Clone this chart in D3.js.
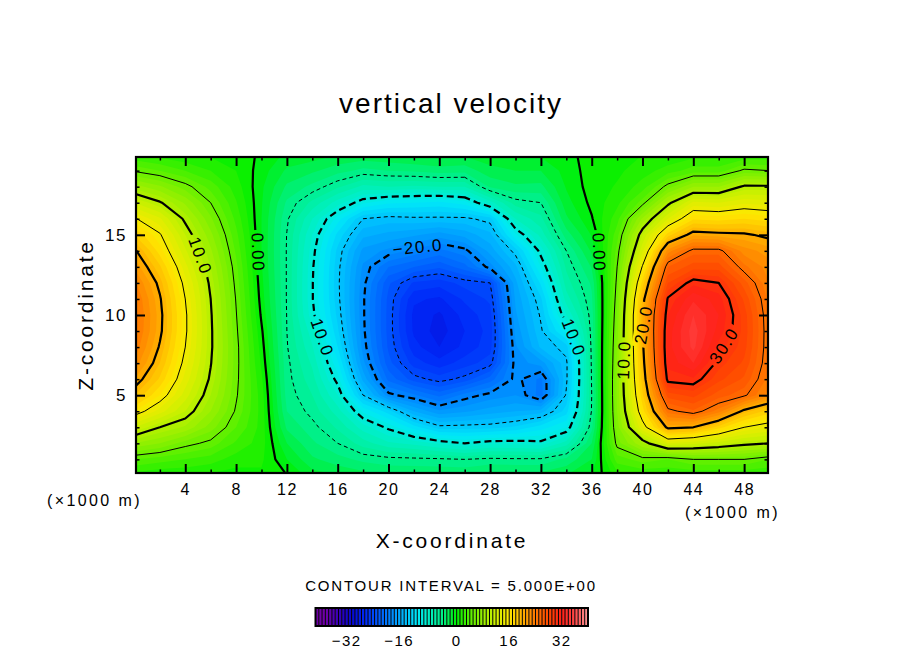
<!DOCTYPE html>
<html>
<head>
<meta http-equiv="Content-type" content="text/html; charset=utf-8">
<title>vertical velocity</title>
<script src="https://cdn.jsdelivr.net/npm/d3@7/dist/d3.min.js"></script>
<style>
  body { margin: 0; background: #fff; }
  svg text { font-family: "Liberation Sans", Arial, Helvetica, sans-serif; fill: #000; }
</style>
</head>
<body>
<script type="text/javascript">

// grid positions, x and z in 1000 m
var xCoords = [0, 2, 4, 6, 8, 10, 12, 14, 16, 18, 20, 22, 24, 26, 28, 30, 32, 34, 36, 38, 40, 42, 44, 46, 48, 50];
var zCoords = [0, 1, 2, 3, 4, 5, 6, 7, 8, 9, 10, 11, 12, 13, 14, 15, 16, 17, 18, 19, 20];

// vertical velocity, one column per x, z = 0 .. 20
var wColumns = [
  [1.5, 4, 8, 12, 16, 19, 21, 22.7, 23.8, 24.4, 24.5, 24.2, 23.3, 21.8, 20.3, 18, 15.2, 12, 8.5, 4.8, 2],
  [1, 3.5, 7, 10, 13.5, 16, 17.8, 19, 19.8, 20.4, 20.5, 20.2, 19.5, 18.2, 16.5, 15.2, 13.2, 10.2, 7.2, 4, 1.5],
  [1, 3, 5.5, 8.8, 11, 12.5, 13.6, 14.4, 15, 15.3, 15.3, 15, 14.4, 13.4, 12.2, 11, 9.6, 7.8, 5.5, 3, 1],
  [0.8, 2.5, 4.6, 6.5, 8, 9, 9.7, 10.1, 10.3, 10.3, 10.2, 10, 9.6, 9, 8.2, 7.3, 6.2, 5, 3.6, 2, 0.8],
  [0.5, 1.5, 2.8, 4, 4.8, 5.2, 5.4, 5.5, 5.5, 5.3, 5.1, 4.9, 4.6, 4.3, 3.8, 3.3, 2.7, 2.1, 1.5, 1, 0.6],
  [0.8, 1.2, 1.5, 1.6, 1.6, 1.5, 1.2, 0.8, 0.5, 0.2, -0.2, -0.5, -0.7, -0.9, -1, -1, -1, -0.9, -0.8, -0.5, -0.2],
  [0, -1, -2, -3.2, -4, -4.4, -4.6, -4.7, -4.9, -5, -5.05, -5.1, -5.1, -5.1, -5.1, -5.05, -4.8, -4.2, -3.2, -2.2, -1.2],
  [-1.5, -2.8, -3.8, -4.6, -5.4, -6, -6.6, -7.2, -7.9, -8.6, -9.6, -9.9, -9.9, -9.8, -9.5, -9, -8, -6.3, -4.3, -2.8, -1.4],
  [-2, -3.6, -5, -6.2, -7.5, -9, -10.5, -11.8, -13, -13.8, -14.3, -14.6, -14.7, -14.6, -14.3, -13.3, -11.5, -8.5, -5.8, -3.6, -2],
  [-2.5, -4.3, -6.5, -8.5, -11.2, -15, -17.3, -18.7, -19.4, -19.7, -19.8, -19.8, -19.6, -19.2, -18.3, -16.7, -15, -10.8, -7.3, -4.3, -2.2],
  [-3, -4.6, -7.8, -10.3, -13.5, -19.6, -22.3, -23.6, -24.2, -24.4, -24.4, -24.3, -23.8, -22, -19.3, -17.3, -15.5, -11.8, -7, -4, -2],
  [-3, -4.7, -8.3, -12.5, -17, -20.8, -24.5, -26.5, -27.6, -28.2, -28.3, -27.8, -26.2, -23, -20.3, -17.8, -15.3, -12, -7.2, -3.8, -1.8],
  [-3, -4.8, -9.2, -14.6, -18.8, -22.3, -25.5, -27.6, -29, -29.5, -29.2, -28.2, -26.6, -23.8, -21.3, -18.5, -15.3, -12.3, -7, -3.5, -1.5],
  [-3, -5, -10, -14.5, -18.2, -20.6, -24.6, -26.5, -27.7, -28, -27.6, -26.8, -25.6, -22.4, -20.4, -17.6, -15.3, -11.5, -7, -3.6, -1.8],
  [-2.5, -4.7, -9.3, -14.4, -17.5, -19.6, -22.5, -25.5, -26.4, -26.6, -26.4, -25.8, -25, -19.5, -17.6, -16.3, -14.5, -8.5, -3.8, -2.4, -1.2],
  [-2.5, -4.8, -9.3, -13.8, -17, -19, -19.6, -19.5, -19.2, -18.7, -18.2, -17.8, -17.3, -16.3, -14.5, -11.2, -8, -5.5, -3.2, -2, -1],
  [-2.5, -4.8, -9.6, -12.5, -16.5, -21.5, -21.3, -18.5, -15.8, -15.2, -14.8, -14.2, -12.8, -11, -9.5, -7.6, -6.3, -5, -3.3, -2, -0.8],
  [-2, -3.7, -7.5, -11, -13.5, -14.8, -15.3, -15.3, -14.5, -11.5, -9, -7.5, -6.5, -5.8, -5, -3.5, -2.2, -1.4, -0.9, -0.6, -0.3],
  [-1, -2, -3, -4.3, -4.9, -5, -4.9, -4.8, -4.7, -4.6, -4.5, -4.2, -3.8, -2.9, -1.8, -0.9, -0.1, 0.3, 0.5, 0.5, 0.4],
  [1.5, 3.5, 5.5, 6.5, 7, 7.2, 7.2, 7, 6.8, 6.5, 6.2, 5.8, 5.4, 5, 4.4, 3.6, 2.6, 1.7, 1.1, 0.8, 0.6],
  [2, 4.5, 9, 14, 16.5, 17.8, 18.6, 19.2, 19.6, 19.9, 20, 19.2, 17.5, 15.2, 12.8, 11, 8.2, 4.5, 2.5, 1.5, 1],
  [2, 4, 13, 20.5, 24.5, 27.5, 30.5, 31.3, 31.6, 31.5, 31, 30.2, 28, 26, 22.5, 17.5, 13, 9.5, 5.5, 2.5, 1],
  [2, 5, 12.3, 20, 25.8, 28.3, 30.8, 33, 34.3, 34.5, 34, 32.8, 30.7, 27.5, 25.5, 20.8, 16.8, 13.3, 8, 3.5, 1.5],
  [2, 5, 11.5, 17.5, 23.5, 26.5, 28.3, 29.5, 30.6, 31.6, 32, 31.5, 30, 27.5, 25.5, 20.5, 16.6, 13, 8, 3.5, 1.5],
  [2, 5, 10.5, 15, 19.5, 25.3, 26.8, 27.8, 28.4, 28.6, 28.5, 27.8, 26.5, 24.3, 22.5, 20.3, 17, 13.8, 10.3, 5.3, 2],
  [2, 4, 10, 14, 17.5, 22.5, 23.5, 23.9, 24, 24, 23.9, 23.6, 23, 22.5, 21.5, 19.5, 16.5, 13.5, 10.3, 5, 2]
];

var lineLevels = [-25, -20, -15, -10, -5, 0, 5, 10, 15, 20, 25, 30];
var xTicks = [4, 8, 12, 16, 20, 24, 28, 32, 36, 40, 44, 48];
var xMinorTicks = [2, 6, 10, 14, 18, 22, 26, 30, 34, 38, 42, 46];
var zTicks = [5, 10, 15];
var zMinorTicks = [1, 2, 3, 4, 6, 7, 8, 9, 11, 12, 13, 14, 16, 17, 18, 19];
var barTicks = [-32, -16, 0, 16, 32];

// colour table
var colorStopValues = [-40, -36, -32, -28, -24, -20, -16, -12, -8, -4, 0, 4, 8, 12, 16, 20, 24, 28, 32, 36, 40];
var colorStopHex = ["#7000a8", "#3800b8", "#0808d0", "#0028f8", "#0058ff", "#0088ff", "#00b8ff", "#00e8f8",
                    "#00f0c0", "#00f080", "#00f000", "#58f000", "#98f000", "#d0f000", "#ffe800", "#ffb000",
                    "#ff7800", "#ff4800", "#ff2018", "#ff4848", "#ff9898"];

// contour labels (text, where it sits in x/z, rotation)
var lineLabels = [
  {text: "10.0", x: 5.2, z: 13.7, angle: 70},
  {text: "0.00", x: 9.75, z: 13.9, angle: 88},
  {text: "10.0", x: 14.8, z: 8.6, angle: 71},
  {text: "\u221220.0", x: 22.3, z: 14.25, angle: -6},
  {text: "10.0", x: 34.6, z: 8.6, angle: 69},
  {text: "0.00", x: 36.6, z: 13.9, angle: 88},
  {text: "10.0", x: 38.5, z: 7.2, angle: -88},
  {text: "20.0", x: 40.05, z: 9.4, angle: -80},
  {text: "30.0", x: 46.4, z: 8.1, angle: -57}
];

var W = 904, H = 654;
var frame = {left: 136, right: 768, top: 157, bottom: 473};

var x = d3.scaleLinear().domain([0.12, 49.88]).range([frame.left, frame.right]);
var y = d3.scaleLinear().domain([0.15, 19.85]).range([frame.bottom, frame.top]);
var color = d3.scaleLinear().domain(colorStopValues).range(colorStopHex).clamp(true);

var svg = d3.select("body").append("svg").attr("width", W).attr("height", H);
var defs = svg.append("defs");
defs.append("clipPath").attr("id", "plotclip").append("rect")
    .attr("x", frame.left).attr("y", frame.top)
    .attr("width", frame.right - frame.left).attr("height", frame.bottom - frame.top);

// grid -> flat row-major array for d3.contours
var nx = xCoords.length, nz = zCoords.length;
var values = [];
for (var j = 0; j < nz; j++) {
  for (var i = 0; i < nx; i++) values.push(wColumns[i][j]);
}

var gx = d3.scaleLinear().domain([0.5, nx - 0.5]).range([x(xCoords[0]), x(xCoords[nx - 1])]);
var gz = d3.scaleLinear().domain([0.5, nz - 0.5]).range([y(zCoords[0]), y(zCoords[nz - 1])]);
var path = d3.geoPath(d3.geoTransform({
  point: function(px, py) { this.stream.point(gx(px), gz(py)); }
}));

var plot = svg.append("g").attr("clip-path", "url(#plotclip)");

// filled bands, 1 unit each
var bandLevels = d3.range(-43, 41);
plot.selectAll("path.band")
    .data(d3.contours().size([nx, nz]).thresholds(bandLevels)(values))
    .join("path")
    .attr("class", "band")
    .attr("d", path)
    .attr("fill", function(d) { return color(d.value + 0.5); });

// contour lines, broken under the labels
var mask = defs.append("mask").attr("id", "lblmask").attr("maskUnits", "userSpaceOnUse")
    .attr("x", 0).attr("y", 0).attr("width", W).attr("height", H);
mask.append("rect").attr("width", W).attr("height", H).attr("fill", "white");

var lines = plot.append("g").attr("mask", "url(#lblmask)");
lines.selectAll("path")
    .data(d3.contours().size([nx, nz]).thresholds(lineLevels)(values))
    .join("path")
    .attr("d", path)
    .attr("fill", "none")
    .attr("stroke", "#000")
    .attr("stroke-linejoin", "round")
    .attr("stroke-width", function(d) { return d.value % 10 === 0 ? 2.2 : 1; })
    .attr("stroke-dasharray", function(d) {
      if (d.value >= 0) return null;
      return d.value % 10 === 0 ? "7,4" : "4,3";
    });

var lbl = svg.append("g").attr("font-size", 17).attr("letter-spacing", 1.5);
lineLabels.forEach(function(d) {
  var tr = "translate(" + x(d.x) + "," + y(d.z) + ") rotate(" + d.angle + ")";
  var t = lbl.append("text").attr("transform", tr)
      .attr("text-anchor", "middle").attr("dy", "0.36em").text(d.text);
  var len = t.node().getComputedTextLength();
  mask.append("rect").attr("transform", tr)
      .attr("x", -len / 2 - 3).attr("y", -8).attr("width", len + 6).attr("height", 16)
      .attr("fill", "black");
});

// axes, ticks pointing inward
function styleAxis(g, fs) {
  g.select(".domain").remove();
  g.selectAll(".tick line").attr("stroke", "#000");
  g.attr("font-size", fs).attr("letter-spacing", 1.5).attr("font-family", null);
}

svg.append("g").attr("transform", "translate(0," + frame.bottom + ")")
    .call(d3.axisBottom(x).tickValues(xTicks).tickSize(-9).tickPadding(11).tickFormat(d3.format("d")))
    .call(styleAxis, 16)
    .selectAll(".tick line").attr("stroke-width", 2);
svg.append("g").attr("transform", "translate(0," + frame.bottom + ")")
    .call(d3.axisBottom(x).tickValues(xMinorTicks).tickSize(-3.5).tickFormat(""))
    .call(styleAxis, 16).selectAll(".tick line").attr("stroke-width", 1.5);
svg.append("g").attr("transform", "translate(0," + frame.top + ")")
    .call(d3.axisTop(x).tickValues(xTicks).tickSize(-9).tickFormat(""))
    .call(styleAxis, 16).selectAll(".tick line").attr("stroke-width", 2);
svg.append("g").attr("transform", "translate(0," + frame.top + ")")
    .call(d3.axisTop(x).tickValues(xMinorTicks).tickSize(-3.5).tickFormat(""))
    .call(styleAxis, 16).selectAll(".tick line").attr("stroke-width", 1.5);

svg.append("g").attr("transform", "translate(" + frame.left + ",0)")
    .call(d3.axisLeft(y).tickValues(zTicks).tickSize(-9).tickPadding(9).tickFormat(d3.format("d")))
    .call(styleAxis, 17)
    .selectAll(".tick line").attr("stroke-width", 2);
svg.append("g").attr("transform", "translate(" + frame.left + ",0)")
    .call(d3.axisLeft(y).tickValues(zMinorTicks).tickSize(-3.5).tickFormat(""))
    .call(styleAxis, 16).selectAll(".tick line").attr("stroke-width", 1.5);
svg.append("g").attr("transform", "translate(" + frame.right + ",0)")
    .call(d3.axisRight(y).tickValues(zTicks).tickSize(-9).tickFormat(""))
    .call(styleAxis, 16).selectAll(".tick line").attr("stroke-width", 2);
svg.append("g").attr("transform", "translate(" + frame.right + ",0)")
    .call(d3.axisRight(y).tickValues(zMinorTicks).tickSize(-3.5).tickFormat(""))
    .call(styleAxis, 16).selectAll(".tick line").attr("stroke-width", 1.5);

svg.append("rect")
    .attr("x", frame.left).attr("y", frame.top)
    .attr("width", frame.right - frame.left).attr("height", frame.bottom - frame.top)
    .attr("fill", "none").attr("stroke", "#000").attr("stroke-width", 2.2);

// titles
svg.append("text").attr("x", 451).attr("y", 113).attr("text-anchor", "middle")
    .attr("font-size", 28).attr("letter-spacing", 2).text("vertical velocity");
svg.append("text").attr("x", 452).attr("y", 548).attr("text-anchor", "middle")
    .attr("font-size", 21).attr("letter-spacing", 2.8).text("X-coordinate");
svg.append("text").attr("transform", "translate(93,315) rotate(-90)").attr("text-anchor", "middle")
    .attr("font-size", 21).attr("letter-spacing", 2.8).text("Z-coordinate");
svg.append("text").attr("x", 47).attr("y", 506)
    .attr("font-size", 16).attr("letter-spacing", 2.4).text("(\u00d71000 m)");
svg.append("text").attr("x", 685).attr("y", 518)
    .attr("font-size", 16).attr("letter-spacing", 2.4).text("(\u00d71000 m)");
svg.append("text").attr("x", 451).attr("y", 591).attr("text-anchor", "middle")
    .attr("font-size", 15).attr("letter-spacing", 1.8).text("CONTOUR INTERVAL = 5.000E+00");

// colour bar
var cb = d3.scaleLinear().domain([-43, 40]).range([315.5, 588]);
var barTop = 608, barH = 18;
var bandStarts = d3.range(-43, 40);
var bar = svg.append("g");
bar.selectAll("rect.cb").data(bandStarts).join("rect")
    .attr("class", "cb")
    .attr("x", function(d) { return cb(d); }).attr("y", barTop)
    .attr("width", function(d) { return cb(d + 1) - cb(d); }).attr("height", barH)
    .attr("fill", function(d) { return color(d + 0.5); });
bar.selectAll("line.sep").data(bandStarts.slice(1)).join("line")
    .attr("class", "sep")
    .attr("x1", function(d) { return cb(d); }).attr("x2", function(d) { return cb(d); })
    .attr("y1", barTop).attr("y2", barTop + barH)
    .attr("stroke", "#000").attr("stroke-width", 1);
bar.append("rect").attr("x", cb(-43)).attr("y", barTop)
    .attr("width", cb(40) - cb(-43)).attr("height", barH)
    .attr("fill", "none").attr("stroke", "#000").attr("stroke-width", 2);
var fmt = d3.format("d");
bar.selectAll("text").data(barTicks).join("text")
    .attr("x", function(d) { return cb(d) - (d < 0 ? 5 : 0); }).attr("y", 646)
    .attr("text-anchor", "middle").attr("font-size", 15).attr("letter-spacing", 1.5)
    .text(function(d) { return fmt(d); });

</script>
</body>
</html>
